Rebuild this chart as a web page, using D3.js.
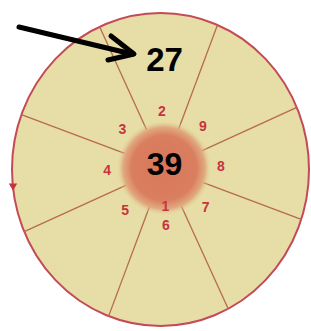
<!DOCTYPE html>
<html>
<head>
<meta charset="utf-8">
<script src="https://cdn.jsdelivr.net/npm/d3@7"></script>
<style>
  body { margin: 0; background: #fff; }
  svg { display: block; }
</style>
</head>
<body>
<div id="chart"></div>
<script>
// values
const sectorLabels = ["2", "9", "8", "7", "6", "5", "4", "3"];
const innerLabel = "1";
const centerValue = "39";
const outerValue = "27";

const width = 311, height = 331;
const hub = { x: 164, y: 168 };
const rim = { cx: 160.5, cy: 169.5, rx: 148.5, ry: 156.5 };

const svg = d3.select("#chart").append("svg")
    .attr("width", width)
    .attr("height", height);

// angle of sector i, clockwise from the top
const angle = d3.scaleLinear()
    .domain([0, sectorLabels.length])
    .range([-2, 358]);

const rad = d => d * Math.PI / 180;

// distance from hub to the rim along a ray
function rimDistance(a) {
    const dx = Math.sin(rad(a)), dy = -Math.cos(rad(a));
    const px = hub.x - rim.cx, py = hub.y - rim.cy;
    const A = dx * dx / (rim.rx * rim.rx) + dy * dy / (rim.ry * rim.ry);
    const B = 2 * (px * dx / (rim.rx * rim.rx) + py * dy / (rim.ry * rim.ry));
    const C = px * px / (rim.rx * rim.rx) + py * py / (rim.ry * rim.ry) - 1;
    return (-B + Math.sqrt(B * B - 4 * A * C)) / (2 * A);
}

const polar = (a, r) => [hub.x + r * Math.sin(rad(a)), hub.y - r * Math.cos(rad(a))];

const defs = svg.append("defs");
const grad = defs.append("radialGradient").attr("id", "glow");
grad.append("stop").attr("offset", "0%").attr("stop-color", "#d8775a");
grad.append("stop").attr("offset", "68%").attr("stop-color", "#da7e60");
grad.append("stop").attr("offset", "85%").attr("stop-color", "#df9a74").attr("stop-opacity", 0.8);
grad.append("stop").attr("offset", "100%").attr("stop-color", "#e5dea4").attr("stop-opacity", 0);

// disc
svg.append("ellipse")
    .attr("cx", rim.cx).attr("cy", rim.cy)
    .attr("rx", rim.rx).attr("ry", rim.ry)
    .attr("fill", "#e6dea6")
    .attr("stroke", "#c44a58")
    .attr("stroke-width", 2);

// sector dividers
svg.append("g").selectAll("line")
    .data(d3.range(sectorLabels.length))
    .join("line")
    .each(function(i) {
        const a = angle(i - 0.5);
        const [x1, y1] = polar(a, 42);
        const [x2, y2] = polar(a, rimDistance(a));
        d3.select(this).attr("x1", x1).attr("y1", y1).attr("x2", x2).attr("y2", y2);
    })
    .attr("stroke", "#b86a50")
    .attr("stroke-width", 1.3);

// hub glow
svg.append("circle")
    .attr("cx", hub.x).attr("cy", hub.y)
    .attr("r", 48)
    .attr("fill", "url(#glow)");

// small arrow mark on the left rim
svg.append("path")
    .attr("d", d3.symbol(d3.symbolTriangle, 30)())
    .attr("transform", "translate(13,186) rotate(180)")
    .attr("fill", "#c8323c");

// sector numbers
svg.append("g").selectAll("text")
    .data(sectorLabels)
    .join("text")
    .attr("x", (d, i) => polar(angle(i), 57)[0])
    .attr("y", (d, i) => polar(angle(i), 57)[1])
    .attr("dy", "0.36em")
    .attr("text-anchor", "middle")
    .attr("font-family", "Liberation Sans, Arial, sans-serif")
    .attr("font-weight", "bold")
    .attr("font-size", 14)
    .attr("fill", "#c8343e")
    .text(d => d);

svg.append("text")
    .attr("x", polar(angle(4), 38)[0])
    .attr("y", polar(angle(4), 38)[1])
    .attr("dy", "0.36em")
    .attr("text-anchor", "middle")
    .attr("font-family", "Liberation Sans, Arial, sans-serif")
    .attr("font-weight", "bold")
    .attr("font-size", 14)
    .attr("fill", "#c8343e")
    .text(innerLabel);

// big numbers
svg.append("text")
    .attr("x", 164.5).attr("y", 175)
    .attr("text-anchor", "middle")
    .attr("font-family", "Liberation Sans, Arial, sans-serif")
    .attr("font-weight", "bold")
    .attr("font-size", 32)
    .attr("fill", "#000")
    .text(centerValue);

svg.append("text")
    .attr("x", 164.5).attr("y", 71)
    .attr("text-anchor", "middle")
    .attr("font-family", "Liberation Sans, Arial, sans-serif")
    .attr("font-weight", "bold")
    .attr("font-size", 33)
    .attr("fill", "#000")
    .text(outerValue);

// pointer arrow
const arrow = svg.append("g")
    .attr("stroke", "#000")
    .attr("stroke-width", 5)
    .attr("stroke-linecap", "round")
    .attr("fill", "none");
arrow.append("line").attr("x1", 19).attr("y1", 27).attr("x2", 132).attr("y2", 54);
arrow.append("polyline")
    .attr("stroke-linejoin", "round")
    .attr("points", "111,36 134,54 108,60");
</script>
</body>
</html>
